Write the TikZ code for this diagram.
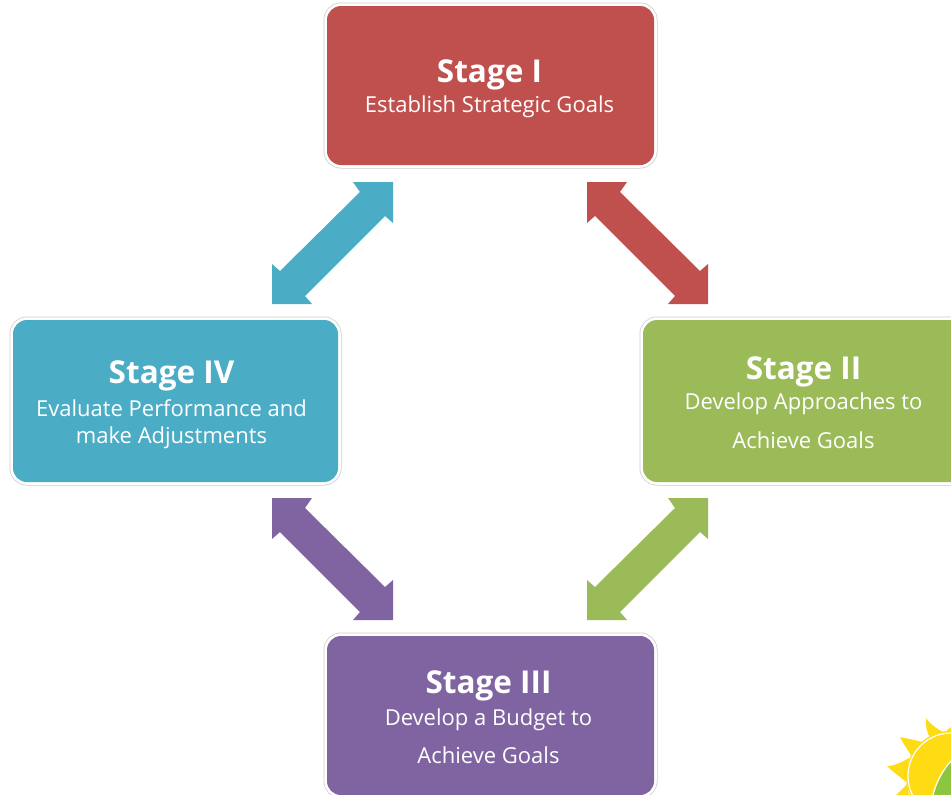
\documentclass[tikz,border=0pt]{standalone}
\usepackage{fontspec}
\setmainfont{Open Sans}
\usetikzlibrary{calc}
\definecolor{cred}{HTML}{C0504D}
\definecolor{cgreen}{HTML}{9BBB59}
\definecolor{cblue}{HTML}{4BACC6}
\definecolor{cpurple}{HTML}{8064A2}
\definecolor{csun}{HTML}{FFDB14}
\definecolor{cleaf}{HTML}{8CC63F}
\newcommand{\stagetitle}[1]{{\fontsize{31.5}{36}\bfseries\selectfont #1}}
\tikzset{
  x=1pt,y=-1pt,
  box/.style={minimum width=327pt,minimum height=159pt,rounded corners=14pt,inner sep=0pt,
    preaction={draw=black!20,line width=7pt},preaction={draw=white,line width=5.5pt}},
  stagetext/.style={text=white,align=center,font=\fontsize{22}{27}\selectfont,inner sep=0pt},
  widetext/.style={stagetext,font=\fontsize{22}{38.5}\selectfont},
  dblarrow/.pic={\fill[pic actions] (0,0) -- (40,0) -- (33,10) -- (113,89) -- (121,82) -- (121,122) -- (81,122) -- (88,114) -- (8,34) -- (0,41) -- cycle;}
}
\begin{document}
\begin{tikzpicture}
\useasboundingbox (0,0) rectangle (951,795);
\clip (0,0) rectangle (951,795);
% boxes
\node[box,fill=cred] (s1) at (490.5,85.5) {};
\node[box,fill=cgreen,minimum height=162pt] (s2) at (806.5,401) {};
\node[box,fill=cpurple] (s3) at (490.5,715.5) {};
\node[box,fill=cblue,minimum width=325pt,minimum height=162pt] (s4) at (175.5,401) {};
% texts
\node[stagetext] (t1) at (489.5,89) {\stagetitle{Stage I}\\[3pt]Establish Strategic Goals};
\node[widetext] (t2) at (803.5,402.5) {\stagetitle{Stage II}\\[-8pt]Develop Approaches to\\Achieve Goals};
\node[widetext] (t3) at (488.5,717.5) {\stagetitle{Stage III}\\[-7pt]Develop a Budget to\\Achieve Goals};
\node[stagetext] (t4) at (171.5,405) {\stagetitle{Stage IV}\\[6pt]Evaluate Performance and\\make Adjustments};
% arrows: each starts at the tip of its upper arrowhead
\coordinate (a1) at (393,182);
\coordinate (a2) at (587,182);
\coordinate (a3) at (708,498);
\coordinate (a4) at (272,498);
\pic[cblue,xscale=-1] at (a1) {dblarrow};
\pic[cred] at (a2) {dblarrow};
\pic[cgreen,xscale=-1] at (a3) {dblarrow};
\pic[cpurple] at (a4) {dblarrow};
% sun
\coordinate (sunc) at (951,776);
\fill[csun] (sunc) circle[radius=45];
\fill[csun] (930,738) .. controls (927,732) and (925,726) .. (926,718)
  .. controls (930,724) and (937,729) .. (945,733) -- cycle;
\fill[csun] (912,757) .. controls (908,750) and (904,745) .. (900,737)
  .. controls (908,739) and (917,740) .. (925,743) -- cycle;
\fill[csun] (906,782) .. controls (899,776) and (893,772) .. (887,766)
  .. controls (895,766) and (902,762) .. (909,758) -- cycle;
\fill[csun] (909,795) -- (896,795) .. controls (899,792) and (903,789) .. (907,784) -- cycle;
\fill[csun] (951,727) -- (944,733) -- (951,736) -- cycle;
\draw[white,line width=1.2pt] (sunc) circle[radius=43];
\fill[cleaf] (951,761) .. controls (942,771) and (936,783) .. (933,795) -- (951,795) -- cycle;
\draw[white,line width=1.2pt] (951,761) .. controls (942,771) and (936,783) .. (933,795);
\end{tikzpicture}
\end{document}
